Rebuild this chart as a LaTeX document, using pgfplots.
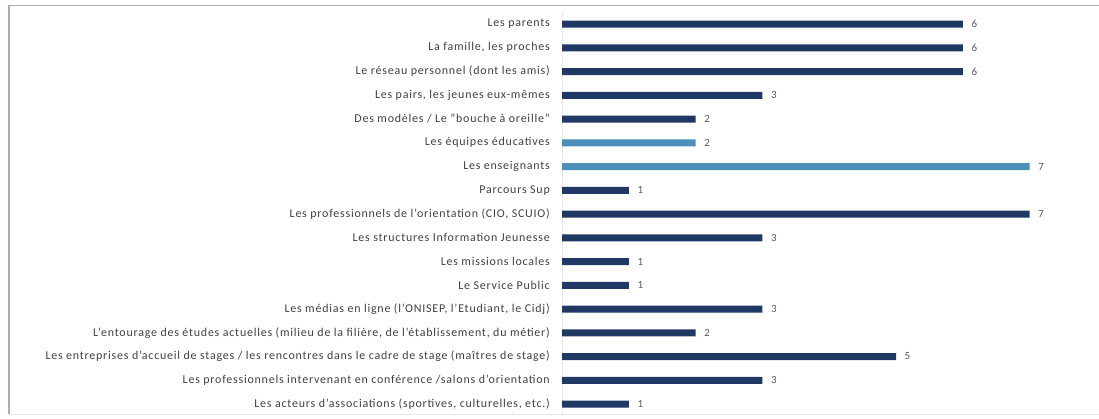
\documentclass[border=0pt]{standalone}
\usepackage{fontspec}
\setmainfont{Carlito}
\newfontfamily\labfont[LetterSpace=6.5, Ligatures=TeX]{Carlito}
\usepackage{pgfplots}
\pgfplotsset{compat=1.18}
\definecolor{navy}{RGB}{31,56,100}
\definecolor{lblue}{RGB}{74,144,185}
\definecolor{lab}{RGB}{64,64,64}
\definecolor{frame}{RGB}{166,174,184}
\begin{document}
\begin{tikzpicture}
\useasboundingbox (0,0) rectangle (1099bp,419bp);
\draw[frame, line width=1.2bp] (1120bp,413.5bp) -- (9bp,413.5bp) -- (9bp,5bp);
\draw[black!10, line width=0.8bp] (9bp,5bp) -- (1120bp,5bp);
\begin{axis}[
  at={(562bp,3.125bp)}, anchor=south west,
  scale only axis,
  width=521.04bp, height=403.75bp,
  xmin=0, xmax=7.8, ymin=-0.5, ymax=16.5,
  y dir=reverse,
  xbar, bar width=7bp, bar shift=0pt,
  axis x line=none,
  axis y line*=left,
  y axis line style={draw=black!8},
  ytick={0,...,16},
  major tick length=0pt,
  /pgf/number format/assume math mode=true,
  yticklabel style={font=\labfont\fontsize{12}{13}\selectfont, color=lab, inner sep=0pt, xshift=-12bp},
  yticklabels={
    {Les parents},
    {La famille, les proches},
    {Le réseau personnel (dont les amis)},
    {Les pairs, les jeunes eux-mêmes},
    {Des modèles / Le "bouche à oreille"},
    {Les équipes éducatives},
    {Les enseignants},
    {Parcours Sup},
    {Les professionnels de l'orientation (CIO, SCUIO)},
    {Les structures Information Jeunesse},
    {Les missions locales},
    {Le Service Public},
    {Les médias en ligne (l'ONISEP, l'Etudiant, le Cidj)},
    {L'entourage des études actuelles (milieu de la filière, de l'établissement, du métier)},
    {Les entreprises d'accueil de stages / les rencontres dans le cadre de stage (maîtres de stage)},
    {Les professionnels intervenant en conférence /salons d'orientation},
    {Les acteurs d'associations (sportives, culturelles, etc.)}
  },
  nodes near coords,
  nodes near coords style={font=\fontsize{11}{12}\selectfont, color=black!65, anchor=west, inner sep=0pt, xshift=8.5bp},
]
\addplot[fill=navy, draw=none] coordinates {
  (6,0) (6,1) (6,2) (3,3) (2,4) (1,7) (7,8) (3,9) (1,10) (1,11) (3,12) (2,13) (5,14) (3,15) (1,16)
};
\addplot[fill=lblue, draw=none] coordinates {
  (2,5) (7,6)
};
\end{axis}
\end{tikzpicture}
\end{document}
